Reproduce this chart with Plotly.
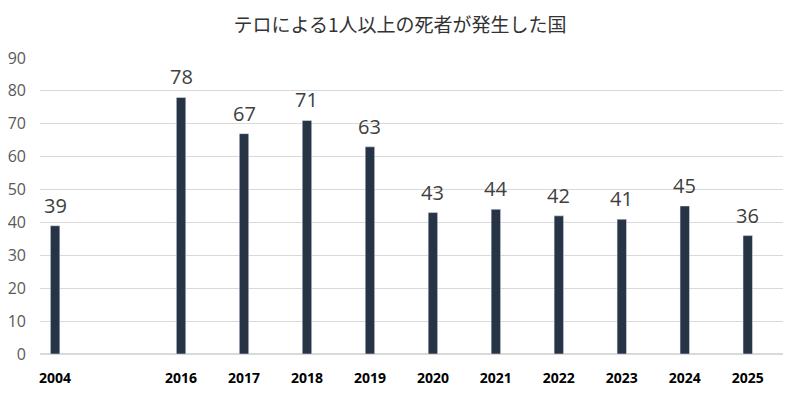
import plotly.graph_objects as go

years = ["2004", " ", "2016", "2017", "2018", "2019", "2020", "2021", "2022", "2023", "2024", "2025"]
counts = [39, None, 78, 67, 71, 63, 43, 44, 42, 41, 45, 36]
title = "テロによる1人以上の死者が発生した国"

fig = go.Figure()
fig.add_trace(go.Bar(x=years, y=counts, width=0.15, marker_color="#263445", hoverinfo="x+y"))

for i, y in enumerate(counts):
    if y is not None:
        fig.add_annotation(x=i, y=y, xref="x", yref="y", text=str(y), showarrow=False,
                           yanchor="bottom", yshift=5,
                           font=dict(size=20, color="#404040", family="Open Sans, Noto Sans, sans-serif"))

fig.update_layout(
    width=800, height=394,
    margin=dict(l=32, r=25, t=50, b=48, autoexpand=False),
    paper_bgcolor="white", plot_bgcolor="white",
    showlegend=False,
    title=dict(text=title, x=392 / 800, xanchor="center", y=1 - 17 / 394, yanchor="middle",
               yref="container",
               font=dict(family="Noto Sans CJK JP", size=19, color="#333333")),
    bargap=0.85,
)
fig.update_xaxes(type="category", categoryorder="array", categoryarray=years,
                 range=[-0.24, 11.56], showgrid=False, showline=False, ticks="",
                 ticklabelstandoff=14, automargin=False,
                 tickfont=dict(family="Open Sans, sans-serif", size=14, color="#000000", weight="bold"))
fig.update_yaxes(range=[0, 90], dtick=10, showgrid=True, gridcolor="#d9d9d9", gridwidth=1,
                 zeroline=True, zerolinecolor="#d9d9d9", showline=False, ticks="",
                 ticklabelstandoff=13, automargin=False,
                 tickfont=dict(family="Open Sans, sans-serif", size=16, color="#595959"))

fig.write_html("out.html")
